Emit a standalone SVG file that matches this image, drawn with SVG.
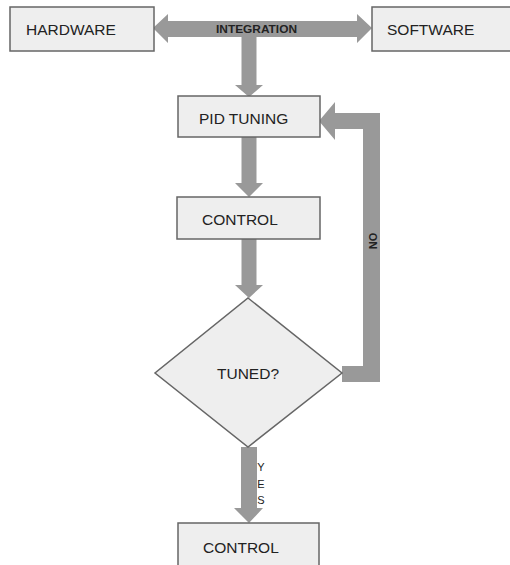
<svg xmlns="http://www.w3.org/2000/svg" width="510" height="565" viewBox="0 0 510 565">
<style>
.box{fill:#eeeeee;stroke:#666666;stroke-width:1.5}
.lbl{font-family:"Liberation Sans",Arial,sans-serif;font-size:15.5px;fill:#222222}
.arr{fill:#999999;stroke:none}
.tag{font-family:"Liberation Sans",Arial,sans-serif;font-weight:bold;fill:#222222}
</style>
<rect width="510" height="565" fill="#ffffff"/>
<g id="connectors">
  <path class="arr" d="M153,28 L168,14 L168,21 L357,21 L357,14 L372,28 L357,43 L357,37 L168,37 L168,43 Z"/>
  <path class="arr" d="M241.5,37 L256.5,37 L256.5,85 L263,85 L249,97 L235,85 L241.5,85 Z"/>
  <path class="arr" d="M241.5,137 L256.5,137 L256.5,183 L263,183 L249,197 L235,183 L241.5,183 Z"/>
  <path class="arr" d="M241.5,239 L256.5,239 L256.5,285 L263,285 L249,298 L235,285 L241.5,285 Z"/>
  <path class="arr" d="M241,447 L257,447 L257,508 L263,508 L249,523 L234,508 L241,508 Z"/>
  <path class="arr" d="M342,366 L363,366 L363,129 L335,129 L335,140 L319,121 L335,102 L335,113 L380,113 L380,382 L342,382 Z"/>
  <text class="tag" x="256.5" y="33" font-size="11.5" text-anchor="middle" textLength="81" lengthAdjust="spacingAndGlyphs">INTEGRATION</text>
  <text class="tag" font-size="11" text-anchor="middle" transform="translate(377,241) rotate(-90)">NO</text>
  <g font-family="'Liberation Sans',Arial,sans-serif" font-size="11" fill="#222222" text-anchor="middle">
    <text x="261" y="471">Y</text>
    <text x="261" y="488">E</text>
    <text x="261" y="504">S</text>
  </g>
</g>
<g id="hardware">
  <rect class="box" x="10" y="7" width="144" height="44"/>
  <text class="lbl" x="26" y="35">HARDWARE</text>
</g>
<g id="software">
  <rect class="box" x="372" y="7" width="145" height="44"/>
  <text class="lbl" x="387" y="35">SOFTWARE</text>
</g>
<g id="pid-tuning">
  <rect class="box" x="178" y="96" width="142" height="41"/>
  <text class="lbl" x="199" y="124">PID TUNING</text>
</g>
<g id="control">
  <rect class="box" x="177" y="197" width="143" height="42"/>
  <text class="lbl" x="202" y="225">CONTROL</text>
</g>
<g id="tuned">
  <polygon class="box" fill="#ececec" points="248,298 342,373 248,447 155,373"/>
  <text class="lbl" x="217" y="379">TUNED?</text>
</g>
<g id="control-final">
  <rect class="box" x="178" y="523" width="141" height="45"/>
  <text class="lbl" x="203" y="553">CONTROL</text>
</g>
</svg>
